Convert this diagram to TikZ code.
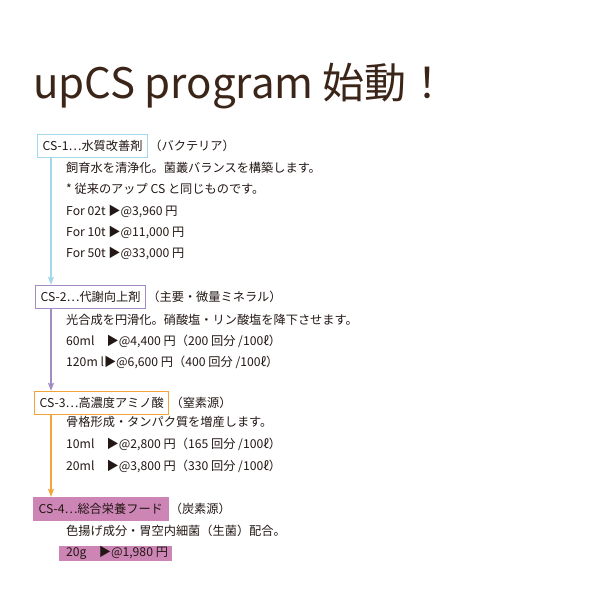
\documentclass[tikz,border=0pt]{standalone}
\usepackage{fontspec}
\setmainfont{Noto Sans CJK JP}
\usetikzlibrary{arrows.meta,positioning}

\definecolor{ink}{HTML}{231815}
\definecolor{titlebrown}{HTML}{3B2518}
\definecolor{csblue}{HTML}{A4D6EC}
\definecolor{cspurple}{HTML}{A38CC4}
\definecolor{csorange}{HTML}{F2A33A}
\definecolor{cspink}{HTML}{CD85B6}

\tikzset{
  body/.style={anchor=west, inner sep=0pt, text=ink,
    font=\fontsize{12.2}{14}\selectfont},
  csbox/.style={body, draw=#1, line width=1.4pt, inner xsep=5pt,
    minimum height=23pt},
  csnote/.style={body, right=1pt},
  stemline/.style={draw=#1, line width=1.3pt,
    -{Stealth[length=8pt, width=6pt, inset=1.5pt]}},
}

\begin{document}
\begin{tikzpicture}[x = 1pt, y = -1pt]
\useasboundingbox[fill=white] (0, 0) rectangle (600, 600);

% title
\node[anchor=base west, inner sep=0pt, text=titlebrown,
      font=\fontsize{42}{46}\selectfont] (title) at (33, 98)
  {upCS program 始動！};

% the four steps
\node[csbox=csblue] (cs1) at (37, 146) {CS-1⋯水質改善剤};
\node[csnote] (note1) at (cs1.east) {（バクテリア）};
\node[csbox=cspurple] (cs2) at (35, 297) {CS-2⋯代謝向上剤};
\node[csnote] (note2) at (cs2.east) {（主要・微量ミネラル）};
\node[csbox=csorange] (cs3) at (34, 403) {CS-3⋯高濃度アミノ酸};
\node[csnote] (note3) at (cs3.east) {（窒素源）};
\node[csbox=cspink, fill=cspink] (cs4) at (33, 509) {CS-4⋯総合栄養フード};
\node[csnote] (note4) at (cs4.east) {（炭素源）};

% the arrows down the left
\coordinate (stem) at (51, 0);
\draw[stemline=csblue] (stem |- cs1.south) -- (stem |- cs2.north);
\draw[stemline=cspurple] (stem |- cs2.south) -- (stem |- cs3.north);
\draw[stemline=csorange] (stem |- cs3.south) -- (stem |- cs4.north);

% what each one does, and the prices
\foreach \y/\t in {168/{飼育水を清浄化。菌叢バランスを構築します。},
                   189/{* 従来のアップ CS と同じものです。},
                   211/{For 02t ▶@3,960 円},
                   232/{For 10t ▶@11,000 円},
                   253/{For 50t ▶@33,000 円},
                   320/{光合成を円滑化。硝酸塩・リン酸塩を降下させます。},
                   341/{60ml　▶@4,400 円（200 回分 /100ℓ）},
                   362/{120m l▶@6,600 円（400 回分 /100ℓ）},
                   422/{骨格形成・タンパク質を増産します。},
                   444/{10ml　▶@2,800 円（165 回分 /100ℓ）},
                   466/{20ml　▶@3,800 円（330 回分 /100ℓ）},
                   531/{色揚げ成分・胃空内細菌（生菌）配合。}}
  \node[body] at (66, \y) {\t};

\fill[cspink] (59, 546) rectangle (172, 561);
\node[body] (price4) at (66, 553) {20g　▶@1,980 円};

\end{tikzpicture}
\end{document}
